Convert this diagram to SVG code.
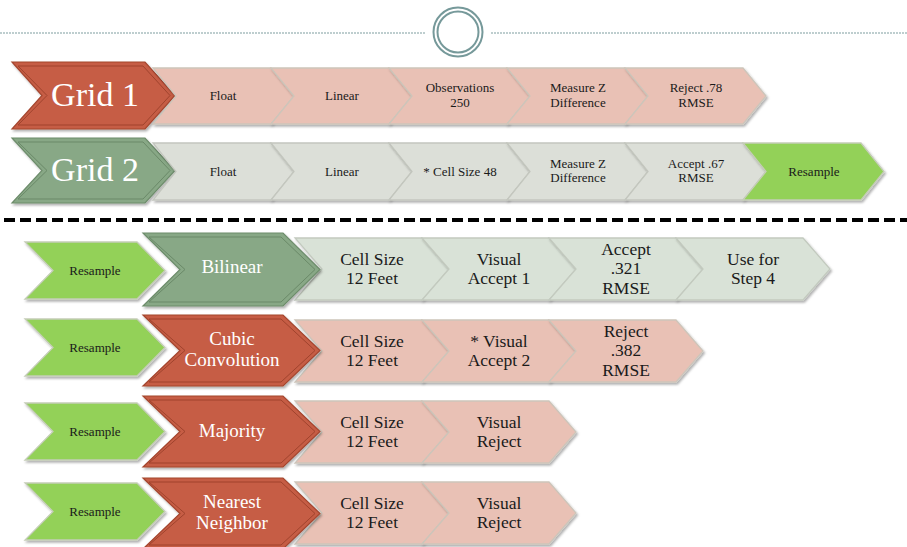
<svg xmlns="http://www.w3.org/2000/svg" width="907" height="547" viewBox="0 0 907 547">
<defs>
<filter id="sh" x="-10%" y="-10%" width="125%" height="130%">
<feDropShadow dx="1.5" dy="2" stdDeviation="1.3" flood-color="#000" flood-opacity="0.3"/>
</filter>
<style>
.s{filter:url(#sh)}
.pink{fill:#e9c1b5;stroke:#cdc5ba;stroke-width:1.3}
.gray{fill:#dcdfd8;stroke:#c3c6be;stroke-width:1.3}
.lgr{fill:#d9e2d7;stroke:#c3cabf;stroke-width:1.3}
.lime{fill:#93d158;stroke:#c5cdb8;stroke-width:1.3}
.red{fill:#c65d44;stroke:#a4462f;stroke-width:1.2}
.dgr{fill:#88a886;stroke:#6d8c6b;stroke-width:1.2}
.inR{fill:none;stroke:#a0432d;stroke-width:1}
.inG{fill:none;stroke:#6a8968;stroke-width:1}
text{font-family:"Liberation Serif","DejaVu Serif",serif;text-anchor:middle}
.t{font-size:13px;fill:#1a1a1a}
.m{font-size:17.5px;fill:#1a1a1a}
.w{font-size:19px;fill:#ffffff}
.g{font-size:34px;fill:#ffffff}
</style>
</defs>
<rect width="907" height="547" fill="#ffffff"/>
<g id="decor">
<line x1="0" y1="33" x2="426" y2="33" stroke="#a9bfc0" stroke-width="1.5" stroke-dasharray="2 1"/>
<line x1="491" y1="33" x2="907" y2="33" stroke="#a9bfc0" stroke-width="1.5" stroke-dasharray="2 1"/>
<circle cx="458" cy="32" r="24.5" fill="#ffffff" stroke="#76999a" stroke-width="2"/>
<circle cx="458" cy="32" r="20.5" fill="none" stroke="#76999a" stroke-width="2"/>
<line x1="4" y1="220" x2="907" y2="220" stroke="#000000" stroke-width="4" stroke-dasharray="11 5"/>
</g>
<g id="connectors"/>
<!-- Grid 1 row -->
<g id="grid1"><polygon class="red s" points="12,62 145,62 175,95.5 145,129 12,129 42,95.5"/><polygon class="inR" points="18,66 143,66 170,95.5 143,125 18,125 47,95.5"/><text class="g" x="95" y="106">Grid 1</text></g>
<g id="g1-float"><polygon class="pink s" points="153,68 271,68 294,96 271,124 153,124 176,96"/><text class="t" x="223" y="100">Float</text></g>
<g id="g1-linear"><polygon class="pink s" points="271,68 389,68 412,96 389,124 271,124 294,96"/><text class="t" x="342" y="100">Linear</text></g>
<g id="g1-obs"><polygon class="pink s" points="389,68 507,68 530,96 507,124 389,124 412,96"/><text class="t" x="460" y="92">Observations</text><text class="t" x="460" y="106.5">250</text></g>
<g id="g1-measure"><polygon class="pink s" points="507,68 625,68 648,96 625,124 507,124 530,96"/><text class="t" x="578" y="92">Measure Z</text><text class="t" x="578" y="106.5">Difference</text></g>
<g id="g1-reject"><polygon class="pink s" points="625,68 743,68 766,96 743,124 625,124 648,96"/><text class="t" x="696" y="92">Reject .78</text><text class="t" x="696" y="106.5">RMSE</text></g>
<!-- Grid 2 row -->
<g id="grid2"><polygon class="dgr s" points="12,138 145,138 175,170.5 145,203 12,203 42,170.5"/><polygon class="inG" points="18,142 143,142 170,170.5 143,199 18,199 47,170.5"/><text class="g" x="95" y="181">Grid 2</text></g>
<g id="g2-float"><polygon class="gray s" points="153,143 271,143 294,171.5 271,200 153,200 176,171.5"/><text class="t" x="223" y="176">Float</text></g>
<g id="g2-linear"><polygon class="gray s" points="271,143 389,143 412,171.5 389,200 271,200 294,171.5"/><text class="t" x="342" y="176">Linear</text></g>
<g id="g2-cell"><polygon class="gray s" points="389,143 507,143 530,171.5 507,200 389,200 412,171.5"/><text class="t" x="460" y="176">* Cell Size 48</text></g>
<g id="g2-measure"><polygon class="gray s" points="507,143 625,143 648,171.5 625,200 507,200 530,171.5"/><text class="t" x="578" y="167.5">Measure Z</text><text class="t" x="578" y="182">Difference</text></g>
<g id="g2-accept"><polygon class="gray s" points="625,143 743,143 766,171.5 743,200 625,200 648,171.5"/><text class="t" x="696" y="167.5">Accept .67</text><text class="t" x="696" y="182">RMSE</text></g>
<g id="g2-resample"><polygon class="lime s" points="743,143 861,143 884,171.5 861,200 743,200 766,171.5"/><text class="t" x="814" y="176">Resample</text></g>
<!-- Bilinear row -->
<g id="r1-resample"><polygon class="lime s" points="25,242 137,242 165,270.5 137,299 25,299 53,270.5"/><text class="t" x="95" y="275">Resample</text></g>
<g id="r1-cell"><polygon class="lgr s" points="295,238 422,238 449,269 422,300 295,300 322,269"/><text class="m" x="372" y="264.5">Cell Size</text><text class="m" x="372" y="284">12 Feet</text></g>
<g id="r1-visual"><polygon class="lgr s" points="422,238 549,238 576,269 549,300 422,300 449,269"/><text class="m" x="499" y="264.5">Visual</text><text class="m" x="499" y="284">Accept 1</text></g>
<g id="r1-accept"><polygon class="lgr s" points="549,238 676,238 703,269 676,300 549,300 576,269"/><text class="m" x="626" y="254.5">Accept</text><text class="m" x="626" y="274">.321</text><text class="m" x="626" y="293.5">RMSE</text></g>
<g id="r1-use"><polygon class="lgr s" points="676,238 803,238 830,269 803,300 676,300 703,269"/><text class="m" x="753" y="264.5">Use for</text><text class="m" x="753" y="284">Step 4</text></g>
<g id="bilinear"><polygon class="dgr s" points="143,233 283,233 320,269.5 283,306 143,306 180,269.5"/><polygon class="inG" points="149,237 281,237 315,269.5 281,302 149,302 185,269.5"/><text class="w" x="232" y="273">Bilinear</text></g>
<!-- Cubic row -->
<g id="r2-resample"><polygon class="lime s" points="25,319 137,319 165,347.5 137,376 25,376 53,347.5"/><text class="t" x="95" y="352">Resample</text></g>
<g id="r2-cell"><polygon class="pink s" points="295,320 422,320 449,351 422,382 295,382 322,351"/><text class="m" x="372" y="346.5">Cell Size</text><text class="m" x="372" y="366">12 Feet</text></g>
<g id="r2-visual"><polygon class="pink s" points="422,320 549,320 576,351 549,382 422,382 449,351"/><text class="m" x="499" y="346.5">* Visual</text><text class="m" x="499" y="366">Accept 2</text></g>
<g id="r2-reject"><polygon class="pink s" points="549,320 676,320 703,351 676,382 549,382 576,351"/><text class="m" x="626" y="336.5">Reject</text><text class="m" x="626" y="356">.382</text><text class="m" x="626" y="375.5">RMSE</text></g>
<g id="cubic"><polygon class="red s" points="143,315 283,315 320,350.5 283,386 143,386 180,350.5"/><polygon class="inR" points="149,319 281,319 315,350.5 281,382 149,382 185,350.5"/><text class="w" x="232" y="344.5">Cubic</text><text class="w" x="232" y="365.5">Convolution</text></g>
<!-- Majority row -->
<g id="r3-resample"><polygon class="lime s" points="25,403 137,403 165,431.5 137,460 25,460 53,431.5"/><text class="t" x="95" y="436">Resample</text></g>
<g id="r3-cell"><polygon class="pink s" points="295,401 422,401 449,432 422,463 295,463 322,432"/><text class="m" x="372" y="427.5">Cell Size</text><text class="m" x="372" y="447">12 Feet</text></g>
<g id="r3-visual"><polygon class="pink s" points="422,401 549,401 576,432 549,463 422,463 449,432"/><text class="m" x="499" y="427.5">Visual</text><text class="m" x="499" y="447">Reject</text></g>
<g id="majority"><polygon class="red s" points="143,396 283,396 320,431.5 283,467 143,467 180,431.5"/><polygon class="inR" points="149,400 281,400 315,431.5 281,463 149,463 185,431.5"/><text class="w" x="232" y="437">Majority</text></g>
<!-- Nearest row -->
<g id="r4-resample"><polygon class="lime s" points="25,483 137,483 165,511.5 137,540 25,540 53,511.5"/><text class="t" x="95" y="516">Resample</text></g>
<g id="r4-cell"><polygon class="pink s" points="295,482 422,482 449,513 422,544 295,544 322,513"/><text class="m" x="372" y="508.5">Cell Size</text><text class="m" x="372" y="528">12 Feet</text></g>
<g id="r4-visual"><polygon class="pink s" points="422,482 549,482 576,513 549,544 422,544 449,513"/><text class="m" x="499" y="508.5">Visual</text><text class="m" x="499" y="528">Reject</text></g>
<g id="nearest"><polygon class="red s" points="143,478 283,478 320,513.5 283,549 143,549 180,513.5"/><polygon class="inR" points="149,482 281,482 315,513.5 281,545 149,545 185,513.5"/><text class="w" x="232" y="508">Nearest</text><text class="w" x="232" y="529">Neighbor</text></g>
</svg>
